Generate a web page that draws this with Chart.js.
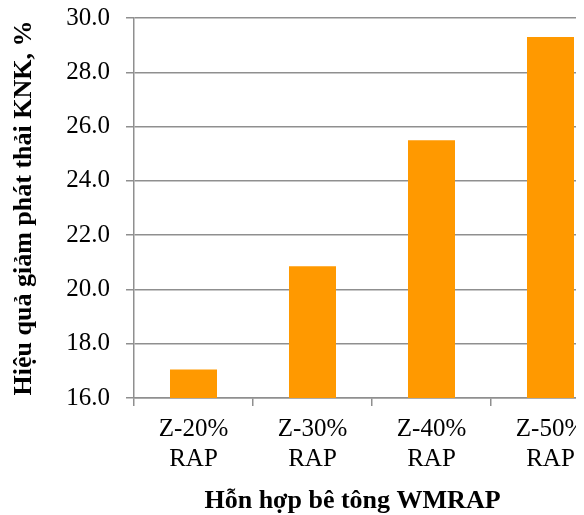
<!DOCTYPE html>
<html>
<head>
<meta charset="utf-8">
<script src="https://cdn.jsdelivr.net/npm/chart.js@4"></script>
<style>
  html, body { margin: 0; padding: 0; background: #fff; overflow: hidden; }
  #wrap { width: 576px; height: 515px; overflow: hidden; }
  #box { width: 620px; height: 515px; }
</style>
</head>
<body>
<div id="wrap"><div id="box"><canvas id="chart"></canvas></div></div>
<script>
const categories = [["Z-20%", "RAP"], ["Z-30%", "RAP"], ["Z-40%", "RAP"], ["Z-50%", "RAP"]];
const efficiency = [17.05, 20.85, 25.5, 29.3];
const yMin = 16, yMax = 30, yStep = 2;

const serif = "'Liberation Serif', 'Times New Roman', serif";
const gridGray = "#8f8f8f";

new Chart(document.getElementById("chart"), {
  type: "bar",
  data: {
    labels: categories,
    datasets: [{
      data: efficiency,
      backgroundColor: "#ff9900",
      borderWidth: 0,
      barPercentage: 0.395,
      categoryPercentage: 1
    }]
  },
  options: {
    responsive: true,
    maintainAspectRatio: false,
    animation: false,
    layout: { padding: { top: 18, right: 10, left: 0, bottom: 0 } },
    plugins: { legend: { display: false }, tooltip: { enabled: false } },
    scales: {
      x: {
        afterFit: s => { s.height = 117; s.paddingLeft = 0; s.paddingRight = 0; },
        grid: { offset: true, drawOnChartArea: false, drawTicks: true, tickLength: 8, color: gridGray, lineWidth: 1.5 },
        border: { color: gridGray, width: 1.5 },
        ticks: { color: "#000", padding: 8, maxRotation: 0, font: { family: serif, size: 25, lineHeight: 1.2 } },
        title: {
          display: true,
          text: "Hỗn hợp bê tông WMRAP      ",
          color: "#000",
          padding: { top: 0, bottom: 1 },
          font: { family: serif, size: 26, weight: "bold", lineHeight: 1 }
        }
      },
      y: {
        min: yMin,
        max: yMax,
        afterFit: s => { s.width = 134; s.paddingTop = 0; s.paddingBottom = 0; },
        grid: { drawTicks: true, tickLength: 8, color: gridGray, lineWidth: 1.5 },
        border: { color: gridGray, width: 1.5 },
        ticks: {
          stepSize: yStep,
          color: "#000",
          padding: 16,
          font: { family: serif, size: 25 },
          callback: v => v.toFixed(1)
        },
        title: {
          display: true,
          text: "Hiệu quả giảm phát thải KNK, %",
          color: "#000",
          padding: { top: 9, bottom: 0 },
          font: { family: serif, size: 26, weight: "bold" }
        }
      }
    }
  }
});
</script>
</body>
</html>
